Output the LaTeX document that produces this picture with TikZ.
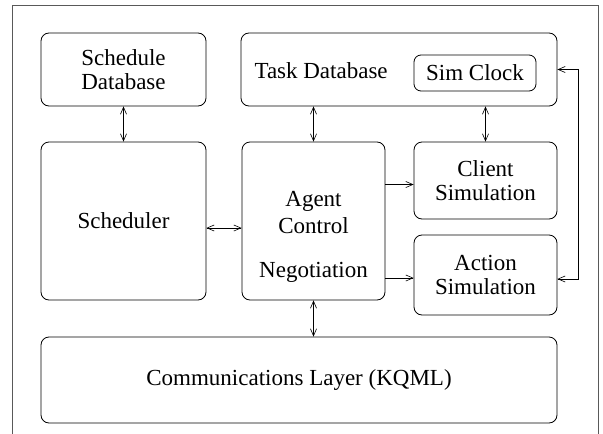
\documentclass[tikz,border=0pt]{standalone}
\usepackage{fontspec}
\setmainfont{Liberation Serif}
\usetikzlibrary{arrows.meta}

\begin{document}
\begin{tikzpicture}[x=1pt,y=-1pt,
  box/.style={draw,rounded corners=8pt,line width=0.8pt,inner sep=0pt},
  both/.style={line width=0.6pt,{Straight Barb[length=7pt,width=6pt]}-{Straight Barb[length=7pt,width=6pt]}},
  one/.style={line width=0.6pt,-{Straight Barb[length=7pt,width=6pt]}},
  font=\fontsize{23}{24}\selectfont]
\useasboundingbox (0,0) rectangle (603,434);
\draw[line width=1pt,gray!70!black] (12,434) -- (12,5) -- (598,5) -- (598,434); % frame

% top row
\node[box,align=center,minimum width=165pt,minimum height=73pt] (schedb) at (123.5,69.5) {Schedule\\Database};
\node[box,minimum width=316pt,minimum height=73pt] (taskdb) at (399,69.5) {};
\node[anchor=west] (tasklabel) at (251,71) {Task Database};
\node[box,rounded corners=7pt,minimum width=122pt,minimum height=36pt] (clock) at (475,73) {Sim Clock};

% middle row
\node[box,minimum width=165pt,minimum height=158pt] (sched) at (123.5,221) {Scheduler};
\node[box,minimum width=143pt,minimum height=158pt] (agent) at (313.5,221) {};
\node[align=center,font=\fontsize{23}{27}\selectfont] (agentlabel) at (313.5,237) {Agent\\Control\\[17pt]Negotiation};
\node[box,align=center,minimum width=143pt,minimum height=77pt] (client) at (485.5,180.5) {Client\\Simulation};
\node[box,align=center,minimum width=143pt,minimum height=80pt] (action) at (485.5,275) {Action\\Simulation};

% bottom
\node[box,minimum width=516pt,minimum height=86pt] (comms) at (299,380) {Communications Layer (KQML)};

% links
\draw[both] (schedb) -- (sched);
\draw[both] (agent.north |- taskdb.south) -- (agent.north);
\draw[both] (client.north |- taskdb.south) -- (client.north);
\draw[both] ([yshift=-7pt]sched.east) -- ([yshift=-7pt]sched.east -| agent.west);
\draw[one] ([yshift=-4pt]agent.east |- client.west) -- ([yshift=-4pt]client.west);
\draw[one] ([yshift=-3pt]agent.east |- action.west) -- ([yshift=-3pt]action.west);
\draw[both] (agent.south) -- (agent.south |- comms.north);
\draw[both] ([yshift=-4pt]action.east) -- ++(21,0) |- (taskdb.east);
\end{tikzpicture}
\end{document}
